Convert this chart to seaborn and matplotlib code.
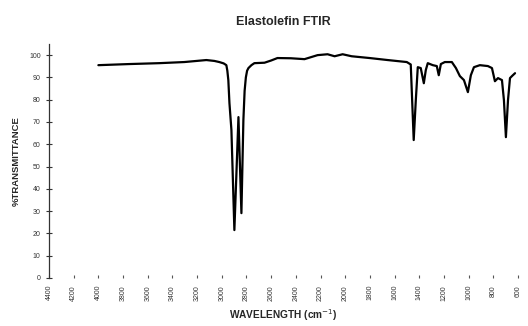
import matplotlib
matplotlib.use("Agg")
import matplotlib.pyplot as plt
import seaborn as sns
import pandas as pd

# FTIR spectrum of an elastolefin fibre (wavenumber in cm^-1, % transmittance)
wavenumber = [4000, 3750, 3507, 3304, 3125, 3060, 3020, 2985, 2963, 2955, 2947,
              2938, 2922, 2898, 2865, 2841, 2825, 2815, 2805, 2795, 2784, 2760,
              2736, 2654, 2600, 2549, 2440, 2330, 2224, 2143, 2086, 2021, 1948,
              1802, 1656, 1501, 1469, 1445, 1428, 1412, 1388, 1363, 1347, 1331,
              1290, 1258, 1242, 1225, 1193, 1136, 1103, 1071, 1038, 1006, 982,
              957, 909, 844, 811, 787, 762, 730, 714, 698, 681, 665, 649, 624]
transmittance = [95.5, 96.0, 96.4, 96.9, 97.8, 97.4, 96.9, 96.3, 95.5, 93.0, 88.8,
                 78.5, 66.4, 21.5, 72.2, 29.1, 70.9, 84.0, 90.0, 93.0, 94.2, 95.5,
                 96.4, 96.6, 97.6, 98.7, 98.6, 98.2, 100.0, 100.4, 99.5, 100.4, 99.5,
                 98.7, 97.8, 96.9, 95.8, 61.9, 79.8, 94.6, 94.2, 87.4, 93.3, 96.4,
                 95.5, 95.1, 91.0, 96.0, 96.9, 96.9, 94.2, 90.6, 88.8, 83.4, 91.0,
                 94.6, 95.5, 95.1, 94.2, 88.3, 89.7, 88.8, 79.8, 63.2, 79.8, 89.7,
                 90.6, 91.9]

x_ticks = list(range(4400, 599, -200))
y_ticks = list(range(0, 101, 10))

df = pd.DataFrame({"wavenumber": wavenumber, "transmittance": transmittance})

sns.set_theme(style="white")
plt.rcParams["font.family"] = ["Liberation Sans", "DejaVu Sans"]

fig = plt.figure(figsize=(5.28, 3.26), dpi=100)
ax = fig.add_axes([49 / 528, 48 / 326, (518 - 49) / 528, (278 - 44) / 326])

sns.lineplot(data=df, x="wavenumber", y="transmittance", sort=False,
             color="black", linewidth=1.6, ax=ax)

ax.set_xlim(4400, 600)
ax.set_ylim(0, 105)
ax.set_xticks(x_ticks)
ax.set_xticklabels([str(t) for t in x_ticks], rotation=90, fontsize=5, color="#333333")
ax.set_yticks(y_ticks)
ax.set_yticklabels([str(t) for t in y_ticks], fontsize=5, color="#333333")

for side in ("top", "right", "bottom"):
    ax.spines[side].set_visible(False)
ax.spines["left"].set_color("#333333")
ax.spines["left"].set_linewidth(0.9)

ax.tick_params(axis="y", direction="inout", length=4, width=0.8, color="#333333", pad=4, left=True)
ax.tick_params(axis="x", direction="in", length=2, width=0.8, color="#555555", pad=5, bottom=True)

ax.set_xlabel("WAVELENGTH (cm$^{-1}$)", fontsize=7.3, fontweight="bold", labelpad=5)
ax.set_ylabel("%TRANSMITTANCE", fontsize=6.8, fontweight="bold", labelpad=6)
ax.set_title("Elastolefin FTIR", fontsize=9, fontweight="bold", pad=14)

fig.savefig("out.png", dpi=100)
